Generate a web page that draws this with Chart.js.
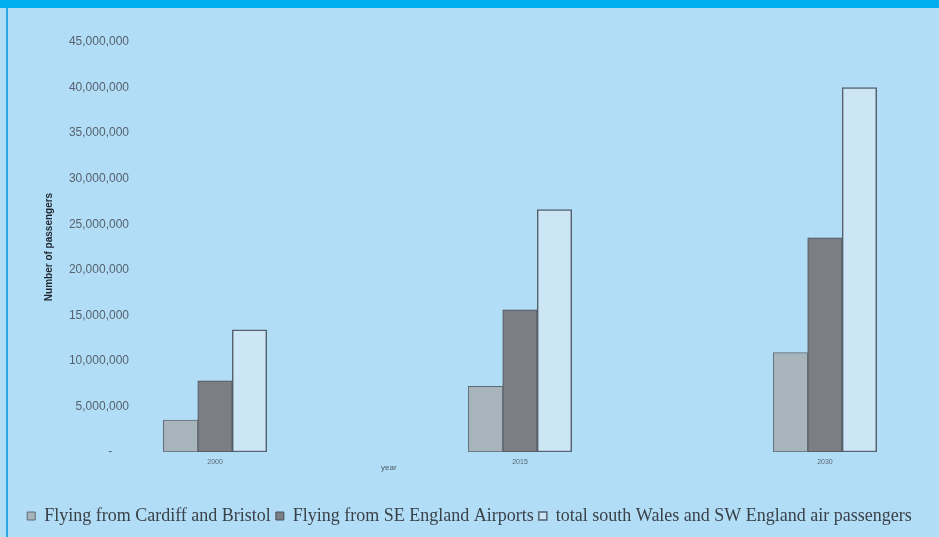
<!DOCTYPE html>
<html>
<head>
<meta charset="utf-8">
<script src="https://cdn.jsdelivr.net/npm/chart.js@4"></script>
<style>
  body { margin: 0; width: 939px; height: 537px; background: #b2ddf6; position: relative; overflow: hidden; }
  #topBar { position: absolute; left: 0; top: 0; width: 939px; height: 8px; background: #00aeef; }
  #leftLine { position: absolute; left: 6px; top: 8px; width: 2px; height: 529px; background: #29a9e1; }
  #chart { position: absolute; left: 0; top: 0; }
</style>
</head>
<body>
<div id="topBar"></div>
<div id="leftLine"></div>
<canvas id="chart" width="939" height="537"></canvas>
<script>
// data
const years = ["2000", "2015", "2030"];
const cardiffBristol = [3500000, 7200000, 10900000];
const seEngland = [7800000, 15600000, 23500000];
const totalSouthWest = [13400000, 26600000, 40000000];
const seriesNames = [
  "Flying from Cardiff and Bristol",
  "Flying from SE England Airports",
  "total south Wales and SW England air passengers"
];
const yMax = 45000000;
const yStep = 5000000;

// categories sit on a linear axis at -1, 0, 1
const xPos = years.map((y, i) => i - 1);
const toPoints = arr => arr.map((v, i) => ({ x: xPos[i], y: v }));

// axis title "year" sits left of centre, like the original
const yearTitle = {
  id: 'yearTitle',
  afterDraw(chart) {
    const { ctx, scales } = chart;
    ctx.save();
    ctx.font = "8px 'Liberation Sans'";
    ctx.fillStyle = "#4d5a66";
    ctx.textAlign = "center";
    ctx.textBaseline = "middle";
    ctx.fillText("year", scales.x.getPixelForValue(-0.43), 468);
    ctx.restore();
  }
};

const ctx = document.getElementById("chart").getContext("2d");
new Chart(ctx, {
  type: "bar",
  data: {
    datasets: [
      { label: seriesNames[0], data: toPoints(cardiffBristol), backgroundColor: "#a8b4bb", borderColor: "#5f6b74", borderWidth: 1 },
      { label: seriesNames[1], data: toPoints(seEngland), backgroundColor: "#7b7f85", borderColor: "#4a525a", borderWidth: 1 },
      { label: seriesNames[2], data: toPoints(totalSouthWest), backgroundColor: "#cde6f6", borderColor: "#56636e", borderWidth: 1.5 }
    ]
  },
  options: {
    responsive: false,
    animation: false,
    barThickness: 34.5,
    borderSkipped: false,
    layout: { padding: { left: 0, right: 0, top: 42, bottom: 2 } },
    plugins: {
      tooltip: { enabled: false },
      legend: {
        position: "bottom",
        labels: {
          font: { family: "'Liberation Serif'", size: 18 },
          color: "#3a4148",
          boxWidth: 8,
          boxHeight: 8,
          padding: 5
        }
      }
    },
    scales: {
      x: {
        type: "linear",
        offset: false,
        min: -1.246,
        max: 1.374,
        grid: { display: false, drawTicks: false },
        border: { display: false },
        afterBuildTicks: s => { s.ticks = xPos.map(v => ({ value: v })); },
        afterFit: s => { s.height = 537 - 2 - s.chart.legend.height - 452; },
        ticks: {
          autoSkip: false,
          padding: 6,
          color: "#5a6672",
          font: { family: "'Liberation Sans'", size: 7 },
          callback: v => years[v + 1]
        }
      },
      y: {
        min: 0,
        max: yMax,
        grid: { display: false, drawTicks: false },
        border: { display: false },
        afterFit: s => { s.width = 140; },
        title: {
          display: true,
          text: "Number of passengers",
          color: "#1e2730",
          padding: { top: 43, bottom: 0 },
          font: { family: "'Liberation Sans'", size: 10, weight: "bold" }
        },
        ticks: {
          stepSize: yStep,
          padding: 11,
          color: "#56626e",
          font: { family: "'Liberation Sans'", size: 12 },
          callback: v => v === 0 ? "-     " : v.toLocaleString("en-US")
        }
      }
    }
  },
  plugins: [yearTitle]
});
</script>
</body>
</html>
